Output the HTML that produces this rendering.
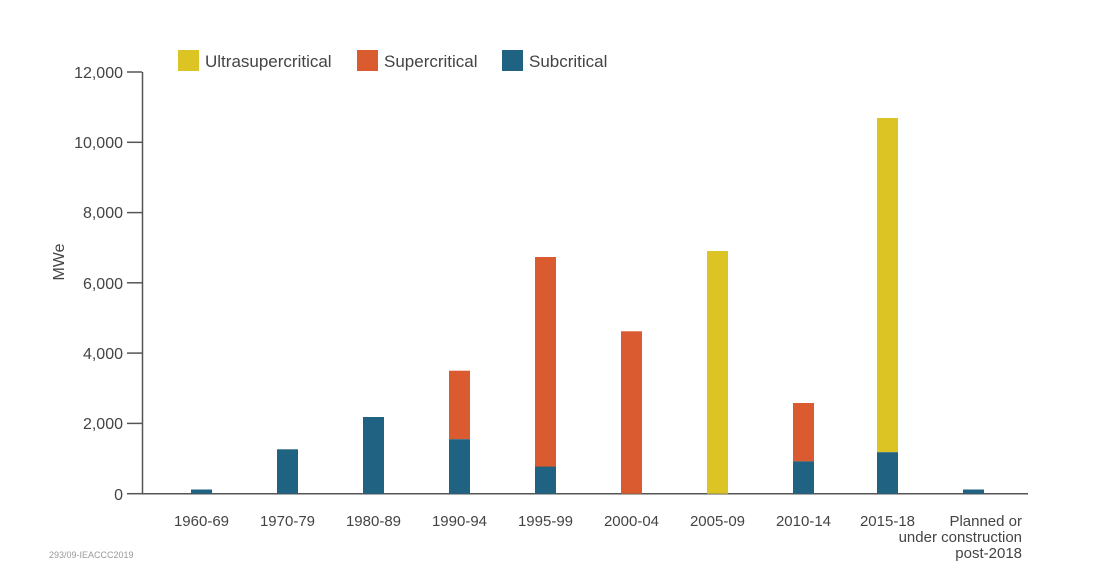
<!DOCTYPE html>
<html><head><meta charset="utf-8"><style>
html,body{margin:0;padding:0;background:#fff;}
svg{display:block;font-family:"Liberation Sans",sans-serif;}
</style></head><body>
<svg width="1114" height="587" viewBox="0 0 1114 587" xmlns="http://www.w3.org/2000/svg">
<rect width="1114" height="587" fill="#fff"/>
<!-- legend -->
<rect x="178" y="50" width="21" height="21" fill="#dcc424"/>
<text x="205" y="67" font-size="17" fill="#444">Ultrasupercritical</text>
<rect x="357" y="50" width="21" height="21" fill="#d95b2f"/>
<text x="384" y="67" font-size="17" fill="#444">Supercritical</text>
<rect x="502" y="50" width="21" height="21" fill="#1f6282"/>
<text x="529" y="67" font-size="17" fill="#444">Subcritical</text>
<!-- axes -->
<g stroke="#555" stroke-width="1.5" fill="none">
<line x1="142.5" y1="72" x2="142.5" y2="494"/>
<line x1="142" y1="493.7" x2="1028" y2="493.7"/>
<line x1="127" y1="72" x2="142" y2="72"/>
<line x1="127" y1="142.3" x2="142" y2="142.3"/>
<line x1="127" y1="212.6" x2="142" y2="212.6"/>
<line x1="127" y1="282.8" x2="142" y2="282.8"/>
<line x1="127" y1="353.1" x2="142" y2="353.1"/>
<line x1="127" y1="423.4" x2="142" y2="423.4"/>
<line x1="127" y1="493.7" x2="142" y2="493.7"/>
</g>
<g font-size="16" fill="#444" text-anchor="end">
<text x="123" y="78">12,000</text>
<text x="123" y="148">10,000</text>
<text x="123" y="218">8,000</text>
<text x="123" y="289">6,000</text>
<text x="123" y="359">4,000</text>
<text x="123" y="429">2,000</text>
<text x="123" y="500">0</text>
</g>
<text transform="translate(64,262) rotate(-90)" font-size="16" fill="#444" text-anchor="middle">MWe</text>
<!-- bars -->
<g>
<rect x="191" y="489.5" width="21" height="4.2" fill="#1f6282"/>
<rect x="277" y="449.3" width="21" height="44.4" fill="#1f6282"/>
<rect x="363" y="417" width="21" height="76.7" fill="#1f6282"/>
<rect x="449" y="370.7" width="21" height="68.5" fill="#d95b2f"/>
<rect x="449" y="439.2" width="21" height="54.5" fill="#1f6282"/>
<rect x="535" y="257" width="21" height="210" fill="#d95b2f"/>
<rect x="535" y="466.6" width="21" height="27.1" fill="#1f6282"/>
<rect x="621" y="331.3" width="21" height="162.4" fill="#d95b2f"/>
<rect x="707" y="251" width="21" height="242.7" fill="#dcc424"/>
<rect x="793" y="403" width="21" height="58.4" fill="#d95b2f"/>
<rect x="793" y="461.4" width="21" height="32.3" fill="#1f6282"/>
<rect x="877" y="118" width="21" height="334.2" fill="#dcc424"/>
<rect x="877" y="452.2" width="21" height="41.5" fill="#1f6282"/>
<rect x="963" y="489.5" width="21" height="4.2" fill="#1f6282"/>
</g>
<g font-size="15" fill="#444" text-anchor="middle">
<text x="201.5" y="526">1960-69</text>
<text x="287.5" y="526">1970-79</text>
<text x="373.5" y="526">1980-89</text>
<text x="459.5" y="526">1990-94</text>
<text x="545.5" y="526">1995-99</text>
<text x="631.5" y="526">2000-04</text>
<text x="717.5" y="526">2005-09</text>
<text x="803.5" y="526">2010-14</text>
<text x="887.5" y="526">2015-18</text>
</g>
<g font-size="15" fill="#444" text-anchor="end">
<text x="1022" y="526">Planned or</text>
<text x="1022" y="542">under construction</text>
<text x="1022" y="558">post-2018</text>
</g>
<text x="49" y="558" font-size="9" fill="#999">293/09-IEACCC2019</text>
</svg>
</body></html>
